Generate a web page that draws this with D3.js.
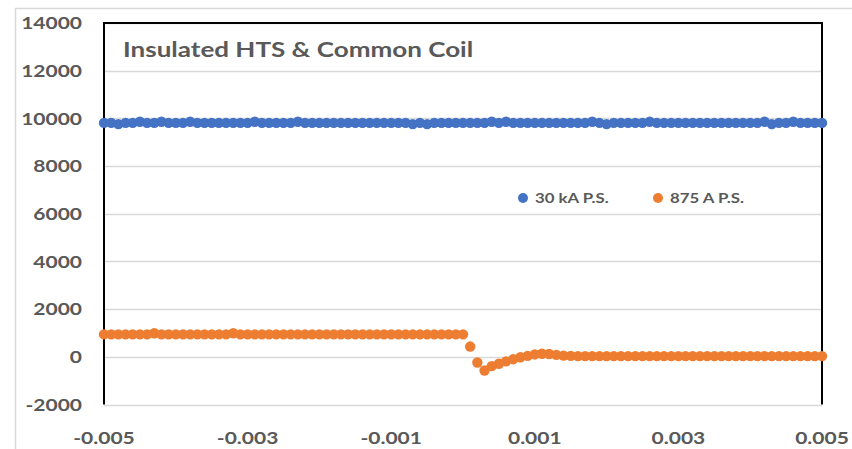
<!DOCTYPE html>
<html><head><meta charset="utf-8">
<script src="https://cdn.jsdelivr.net/npm/d3@7"></script>
<style>html,body{margin:0;padding:0;background:#fff;}svg{display:block;}</style>
</head><body>
<script>
// ---- data ----
const xValues = d3.range(101).map(i => +(-0.005 + i * 0.0001).toFixed(4));
const series30kA = [
 9810,9810,9760,9810,9810,9860,9810,9810,9860,9810,
 9810,9810,9860,9810,9810,9810,9810,9810,9810,9810,
 9810,9860,9810,9810,9810,9810,9810,9860,9810,9810,
 9810,9810,9810,9810,9810,9810,9810,9810,9810,9810,
 9810,9810,9810,9760,9810,9760,9810,9810,9810,9810,
 9810,9810,9810,9810,9860,9810,9860,9810,9810,9810,
 9810,9810,9810,9810,9810,9810,9810,9810,9860,9810,
 9760,9810,9810,9810,9810,9810,9860,9810,9810,9810,
 9810,9810,9810,9810,9810,9810,9810,9810,9810,9810,
 9810,9810,9860,9760,9810,9810,9860,9810,9810,9810,
 9810];
const series875A = [
 940,940,940,940,940,940,940,990,940,940,
 940,940,940,940,940,940,940,940,990,940,
 940,940,940,940,940,940,940,940,940,940,
 940,940,940,940,940,940,940,940,940,940,
 940,940,940,940,940,940,940,940,940,940,
 940,430,-240,-575,-390,-290,-190,-100,-20,40,
 100,130,120,80,50,40,30,30,30,30,
 30,30,30,30,30,30,30,30,30,30,
 30,30,30,30,30,30,30,30,30,30,
 30,30,30,30,30,30,30,30,30,30,
 30];
const seriesNames = ["30 kA P.S.", "875 A P.S."];
const seriesColors = ["#4472c4", "#ed7d31"];
const yTicks = [-2000,0,2000,4000,6000,8000,10000,12000,14000];
const xTicks = [-0.005,-0.003,-0.001,0.001,0.003,0.005];
const xTickLabels = ["-0.005","-0.003","-0.001","0.001","0.003","0.005"];
const title = "Insulated HTS & Common Coil";

// ---- layout ----
const W = 852, H = 449;
const plot = {left:104, right:822, top:23, bottom:404.5};
const textColor = "#595959";
const font = "Lato, 'Open Sans', sans-serif";
const stretch = 1.2;

const svg = d3.select("body").append("svg").attr("width", W).attr("height", H);
svg.append("rect").attr("width", W).attr("height", H).attr("fill", "#fff");

// outer chart-area frame (left & top visible)
svg.append("path").attr("d", `M15.5,${H} V8.5 H${W}`).attr("fill","none").attr("stroke","#d9d9d9").attr("stroke-width",1.5);

const x = d3.scaleLinear().domain([-0.005, 0.005]).range([plot.left, plot.right]);
const y = d3.scaleLinear().domain([-2000, 14000]).range([plot.bottom, plot.top]);

// gridlines
svg.append("g").selectAll("line").data(yTicks).join("line")
  .attr("x1", plot.left).attr("x2", plot.right)
  .attr("y1", d => Math.round(y(d)) + 0.5).attr("y2", d => Math.round(y(d)) + 0.5)
  .attr("stroke", "#d9d9d9").attr("stroke-width", 1.5);

// black plot borders (top, left, right)
svg.append("path")
  .attr("d", `M${plot.left},${plot.bottom} V${plot.top} H${plot.right} V${plot.bottom}`)
  .attr("fill","none").attr("stroke","#000").attr("stroke-width",2);

// y tick labels
svg.append("g").selectAll("text").data(yTicks).join("text")
  .attr("transform", d => `translate(82,${y(d)}) scale(${stretch},1)`)
  .attr("text-anchor","end").attr("dy","0.36em")
  .attr("font-family", font).attr("font-weight","bold").attr("font-size", 17.5)
  .attr("fill", textColor).text(d => d);

// x tick labels
svg.append("g").selectAll("text").data(xTicks).join("text")
  .attr("transform", (d) => `translate(${x(d)},444) scale(${stretch},1)`)
  .attr("text-anchor","middle")
  .attr("font-family", font).attr("font-weight","bold").attr("font-size", 17.5)
  .attr("fill", textColor).text((d,i) => xTickLabels[i]);

// series
const allSeries = [series30kA, series875A];
allSeries.forEach((vals, si) => {
  svg.append("g").selectAll("circle").data(vals).join("circle")
    .attr("cx", (d,i) => x(xValues[i])).attr("cy", d => y(d))
    .attr("r", 5.2).attr("fill", seriesColors[si]);
});

// title
svg.append("text").attr("transform", `translate(123,57) scale(1.24,1)`)
  .attr("font-family", font).attr("font-weight","bold").attr("font-size", 21)
  .attr("fill", textColor).text(title);

// legend
const legendX = [523, 658];
seriesNames.forEach((n, i) => {
  svg.append("circle").attr("cx", legendX[i]).attr("cy", 198).attr("r", 5).attr("fill", seriesColors[i]);
  svg.append("text").attr("transform", `translate(${legendX[i] + 12},203) scale(${stretch},1)`)
    .attr("font-family", font).attr("font-weight","bold").attr("font-size", 14)
    .attr("fill", textColor).text(n);
});
</script>
</body></html>
